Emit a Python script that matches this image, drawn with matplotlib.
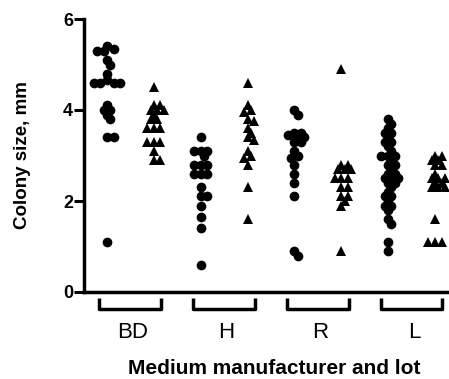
"""Colony size by medium manufacturer and lot - dot plot (circles / triangles per lot)."""
import matplotlib
matplotlib.use("Agg")
import matplotlib.pyplot as plt
import matplotlib.transforms as mtransforms
import numpy as np

plt.rcParams["font.family"] = ["Liberation Sans", "DejaVu Sans"]

# data (mm); two lots per manufacturer
manufacturers = ["BD", "H", "R", "L"]
bd_lot1 = [5.4, 5.35, 5.3, 5.3, 5.1, 5.0, 4.8, 4.65, 4.6, 4.6, 4.6, 4.6,
           4.1, 4.0, 4.0, 3.9, 3.8, 3.4, 3.4, 1.1]
bd_lot2 = [4.5, 4.1, 4.1, 4.0, 4.0, 4.0, 3.9, 3.8, 3.8, 3.6, 3.6, 3.6,
           3.3, 3.3, 3.3, 3.1, 2.9, 2.9]
h_lot1 = [3.4, 3.1, 3.1, 3.1, 3.0, 2.8, 2.8, 2.8, 2.6, 2.6, 2.6, 2.3,
          2.1, 2.1, 1.9, 1.65, 1.4, 0.6]
h_lot2 = [4.6, 4.1, 4.0, 3.95, 3.8, 3.75, 3.6, 3.5, 3.4, 3.35, 3.1, 3.0,
          2.95, 2.8, 2.3, 1.6]
r_lot1 = [4.0, 3.9, 3.5, 3.5, 3.45, 3.4, 3.4, 3.3, 3.3, 3.1, 3.0, 2.95,
          2.8, 2.6, 2.4, 2.1, 0.9, 0.8]
r_lot2 = [4.9, 2.8, 2.8, 2.7, 2.7, 2.7, 2.5, 2.5, 2.5, 2.3, 2.3, 2.1,
          2.1, 2.0, 1.9, 0.9]
l_lot1 = [3.8, 3.7, 3.6, 3.5, 3.5, 3.4, 3.3, 3.3, 3.2, 3.1, 3.0, 3.0,
          3.0, 2.9, 2.8, 2.8, 2.7, 2.6, 2.6, 2.5, 2.5, 2.5, 2.4, 2.4,
          2.3, 2.2, 2.1, 2.1, 2.0, 1.9, 1.9, 1.8, 1.6, 1.5, 1.1, 0.9]
l_lot2 = [3.0, 3.0, 2.9, 2.9, 2.8, 2.8, 2.6, 2.5, 2.5, 2.5, 2.4, 2.4,
          2.3, 2.3, 2.3, 1.6, 1.1, 1.1, 1.1]

groups = [bd_lot1, bd_lot2, h_lot1, h_lot2, r_lot1, r_lot2, l_lot1, l_lot2]
markers = ["o", "^"] * 4


def swarm(values, d=5.5, px_x=46.9, px_y=45.5):
    """Simple beeswarm: horizontal offsets (data units) so markers don't pile up."""
    vals = np.sort(np.asarray(values, float))[::-1]
    placed = []
    offs = []
    for v in vals:
        y = v * px_y
        k = 0
        while True:
            cands = [0.0] if k == 0 else [k * d * 0.6, -k * d * 0.6]
            ok = None
            for c in cands:
                if all((c - px) ** 2 + (y - py) ** 2 >= d * d for px, py in placed):
                    ok = c
                    break
            if ok is not None:
                placed.append((ok, y))
                offs.append(ok / px_x)
                break
            k += 1
    return vals, np.array(offs)


fig = plt.figure(figsize=(4.49, 3.79), dpi=100)
ax = fig.add_axes([84 / 449, 1 - 292 / 379, 1 - 84 / 449, 273 / 379])

for i, (vals, m) in enumerate(zip(groups, markers)):
    v, off = swarm(vals)
    ax.plot(i + off, v, linestyle="none", marker=m, color="black",
            markersize=7 if m == "o" else 7.5, markeredgewidth=0, clip_on=False)

ax.set_xlim(-0.49, 7.3)
ax.set_ylim(0, 6)
ax.set_yticks([0, 2, 4, 6])
ax.set_xticks([])
for s in ["top", "right"]:
    ax.spines[s].set_visible(False)
for s in ["left", "bottom"]:
    ax.spines[s].set_linewidth(2.5)
ax.tick_params(axis="y", length=7, width=2.2, labelsize=13, pad=1)
for t in ax.get_yticklabels():
    t.set_fontweight("bold")

ax.set_ylabel("Colony size, mm", fontsize=13.5, fontweight="bold")
ax.yaxis.set_label_coords(-0.145, 0.5)

# brackets under each manufacturer
trans = mtransforms.blended_transform_factory(ax.transData, ax.transAxes)
for j, name in enumerate(manufacturers):
    c = 2 * j + 0.5
    x0, x1 = c - 0.66, c + 0.66
    ax.plot([x0, x0, x1, x1], [-0.022, -0.062, -0.062, -0.022], color="black",
            lw=2.5, transform=trans, clip_on=False, solid_capstyle="butt")
    ax.text(c + 0.05, -0.147, name, transform=trans, ha="center", va="center",
            fontsize=16)

fig.text(0.61, 1 - 369 / 379, "Medium manufacturer and lot", ha="center",
         va="center", fontsize=15, fontweight="bold")

fig.savefig("out.png", dpi=100)
